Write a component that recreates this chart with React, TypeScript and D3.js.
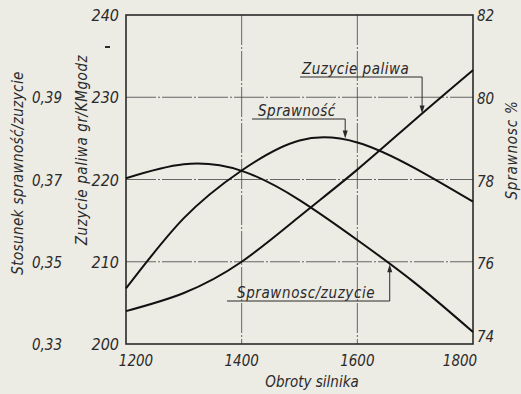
import React from "react";
import * as d3 from "d3";

const rpm = [1200, 1300, 1400, 1500, 1600, 1700, 1800];
const fuel = [204.0, 206.2, 210.0, 215.5, 221.2, 227.3, 233.3];
const efficiency = [75.35, 77.06, 78.22, 78.95, 78.9, 78.27, 77.46];
const ratio = [0.3703, 0.3737, 0.3721, 0.365, 0.3553, 0.3448, 0.3329];

const xTicks = [1200, 1400, 1600, 1800];
const fuelTicks = [200, 210, 220, 230, 240];
const effTicks = [74, 76, 78, 80, 82];
const ratioTicks = [0.33, 0.35, 0.37, 0.39];

const W = 521, H = 394;
const L = 126, R = 473, T = 15, B = 344;
const INK = "#2a2a2a";
const FONT = "'DejaVu Sans Condensed', 'DejaVu Sans', sans-serif";

export default function App() {
  const x = d3.scaleLinear().domain([1200, 1800]).range([L, R]);
  const yF = d3.scaleLinear().domain([200, 240]).range([B, T]);
  const yE = d3.scaleLinear().domain([74, 82]).range([B, T]);
  const yR = d3.scaleLinear().domain([0.33, 0.41]).range([B, T]);

  const mk = (vals: number[], y: d3.ScaleLinear<number, number>) =>
    d3.line<number>().x((_, i) => x(rpm[i])).y((v) => y(v)).curve(d3.curveNatural)(vals) || "";

  const interp = (vals: number[], r: number) => {
    const i = d3.bisectRight(rpm, r) - 1;
    const j = Math.min(i + 1, rpm.length - 1);
    const t = j === i ? 0 : (r - rpm[i]) / (rpm[j] - rpm[i]);
    return vals[i] + (vals[j] - vals[i]) * t;
  };

  const txt = { fontFamily: FONT, fontStyle: "italic" as const, fill: INK };

  const fuelTip = { r: 1712, y: yF(interp(fuel, 1712)) };
  const effTip = { r: 1579, y: yE(79.0) };
  const ratioTip = { r: 1656, y: yR(interp(ratio, 1656)) };

  const arrowDown = (px: number, py: number) => `M${px},${py} L${px - 2.5},${py - 8} L${px + 2.5},${py - 8} Z`;
  const arrowUp = (px: number, py: number) => `M${px},${py} L${px - 2.5},${py + 8} L${px + 2.5},${py + 8} Z`;

  return (
    <svg width={W} height={H} style={{ position: "fixed", left: 0, top: 0, background: "#ecebe4" }}>
      <rect x={0} y={0} width={W} height={H} fill="#ecebe4" />
      {/* grid */}
      {[210, 220, 230].map((v) => (
        <line key={"h" + v} x1={L} x2={R} y1={yF(v)} y2={yF(v)} stroke="#444" strokeWidth={0.8} strokeDasharray="30 2 2 2" />
      ))}
      {[1400, 1600].map((v) => (
        <line key={"v" + v} x1={x(v)} x2={x(v)} y1={T} y2={B} stroke="#444" strokeWidth={0.8} strokeDasharray="30 2 2 2" />
      ))}
      {/* frame */}
      <rect x={L} y={T} width={R - L} height={B - T} fill="none" stroke={INK} strokeWidth={1.6} />
      {/* curves */}
      <path d={mk(fuel, yF)} fill="none" stroke="#111" strokeWidth={2} />
      <path d={mk(efficiency, yE)} fill="none" stroke="#111" strokeWidth={2} />
      <path d={mk(ratio, yR)} fill="none" stroke="#111" strokeWidth={2} />

      {/* tick labels */}
      {fuelTicks.map((v) => (
        <text key={"f" + v} x={119} y={yF(v) + 6} textAnchor="end" fontSize={16} {...txt}>{v}</text>
      ))}
      {ratioTicks.map((v) => (
        <text key={"r" + v} x={62} y={yR(v) + 6} textAnchor="end" fontSize={15} {...txt}>{v.toFixed(2).replace(".", ",")}</text>
      ))}
      {effTicks.map((v) => (
        <text key={"e" + v} x={477} y={yE(v) + (v === 74 ? -2 : v === 82 ? 6 : 7)} textAnchor="start" fontSize={15} {...txt}>{v}</text>
      ))}
      {xTicks.map((v) => (
        <text key={"x" + v} x={x(v) + (v === 1200 ? 10 : v === 1800 ? -13 : 0)} y={366} textAnchor="middle" fontSize={15} {...txt}>{v}</text>
      ))}
      <line x1={105} x2={110} y1={47} y2={47} stroke={INK} strokeWidth={2} />

      {/* axis titles */}
      <text transform="translate(87,150) rotate(-90)" textAnchor="middle" fontSize={15} letterSpacing={0.6} {...txt}>Zuzycie paliwa   gr/KMgodz</text>
      <text transform="translate(23,173) rotate(-90)" textAnchor="middle" fontSize={15} letterSpacing={0.4} {...txt}>Stosunek   sprawność/zuzycie</text>
      <text transform="translate(517,150) rotate(-90)" textAnchor="middle" fontSize={15} letterSpacing={0.8} {...txt}>Sprawnosc  %</text>
      <text x={312} y={387} textAnchor="middle" fontSize={15} {...txt}>Obroty silnika</text>

      {/* annotation: fuel */}
      <text x={302} y={74} fontSize={15} letterSpacing={0.5} {...txt}>Zuzycie paliwa</text>
      <polyline points={`${300},77 ${x(fuelTip.r)},77 ${x(fuelTip.r)},${fuelTip.y - 4}`} fill="none" stroke={INK} strokeWidth={1} />
      <path d={arrowDown(x(fuelTip.r), fuelTip.y)} fill={INK} />

      {/* annotation: efficiency */}
      <text x={258} y={116} fontSize={15} letterSpacing={0.5} {...txt}>Sprawność</text>
      <polyline points={`${252},119 ${x(effTip.r)},119 ${x(effTip.r)},${effTip.y - 4}`} fill="none" stroke={INK} strokeWidth={1} />
      <path d={arrowDown(x(effTip.r), effTip.y)} fill={INK} />

      {/* annotation: ratio */}
      <text x={237} y={298} fontSize={15} letterSpacing={0.6} {...txt}>Sprawnosc/zuzycie</text>
      <polyline points={`${227},301 ${x(ratioTip.r)},301 ${x(ratioTip.r)},${ratioTip.y + 4}`} fill="none" stroke={INK} strokeWidth={1} />
      <path d={arrowUp(x(ratioTip.r), ratioTip.y)} fill={INK} />
    </svg>
  );
}
